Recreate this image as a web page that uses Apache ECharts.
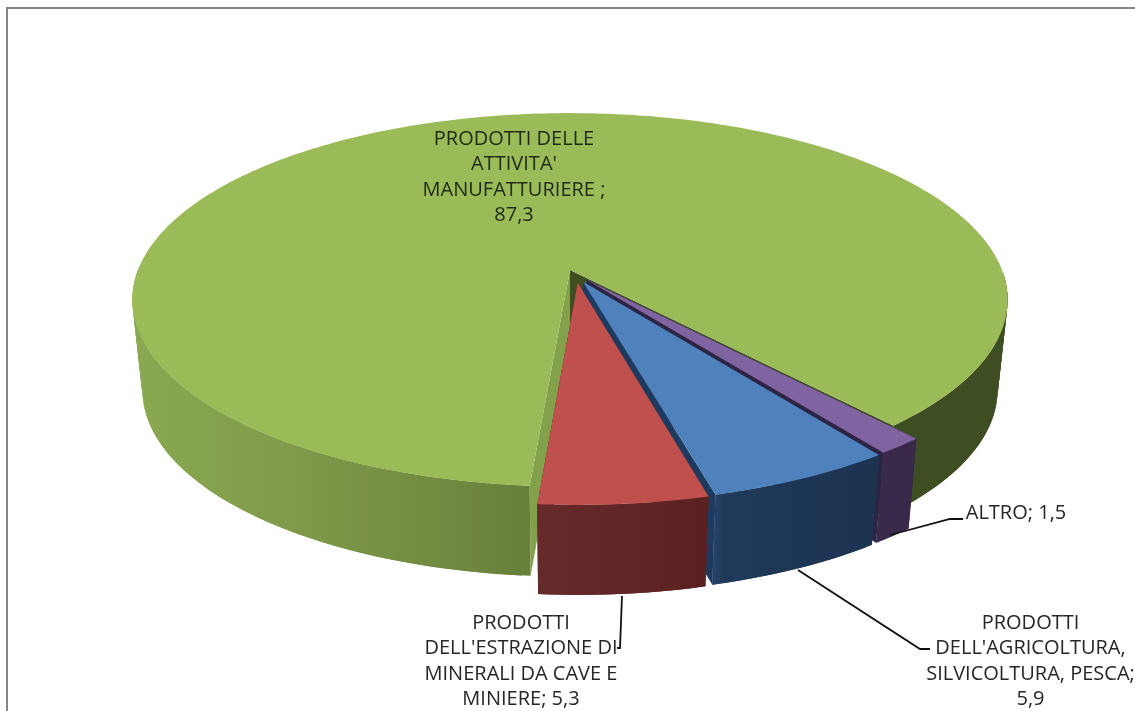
<!DOCTYPE html>
<html>
<head>
<meta charset="utf-8">
<style>html,body{margin:0;padding:0;background:#fff}#c{width:1135px;height:711px}</style>
<script src="https://cdn.jsdelivr.net/npm/echarts@6/dist/echarts.min.js"></script>
</head>
<body>
<div id="c"></div>
<script>
// Data, in clockwise drawing order
const categories = ["PRODOTTI DELLE ATTIVITA' MANUFATTURIERE", "ALTRO", "PRODOTTI DELL'AGRICOLTURA, SILVICOLTURA, PESCA", "PRODOTTI DELL'ESTRAZIONE DI MINERALI DA CAVE E MINIERE"];
const values = [87.3, 1.5, 5.9, 5.3];
const labelTexts = [
  "PRODOTTI DELLE\nATTIVITA'\nMANUFATTURIERE ;\n87,3",
  "ALTRO; 1,5",
  "PRODOTTI\nDELL'AGRICOLTURA,\nSILVICOLTURA, PESCA;\n5,9",
  "PRODOTTI\nDELL'ESTRAZIONE DI\nMINERALI DA CAVE E\nMINIERE; 5,3"
];

// Projection of the tilted disc
const view = {cx: 570, cy: 270, rx: 432, ry: 182, k: 0.16, depth: 90, bottomScale: 0.977, startAngle: 184.5};
const explode = [0, 0.07, 0.07, 0.07];
const shiftX = [0, -2, 0, 5];

// Styles
const topColors = ['#9bbb59', '#8064a2', '#4f81bd', '#c0504d'];
const wallStops = [
  [[0, '#8aa950'], [0.2, '#7f994a'], [0.45, '#68803a'], [0.6, '#5c7030'], [0.85, '#3f4d22'], [1, '#3f4d22']],
  [[0, '#3a2a4c'], [1, '#38294a']],
  [[0, '#26466f'], [0.1, '#20395a'], [1, '#1c3350']],
  [[0, '#672a2a'], [1, '#5a2120']]
];
const wallRanges = [[131, 1008], [872, 915], [708, 880], [538, 708]];
const cutColors = [['#83a04a', '#3f4d22'], ['#2c2443', '#2c2443'], ['#1f3a5f', '#1f3a5f'], ['#632627', '#632627']];
const labelPos = [[514, 177.5], [1016, 513], [1030.5, 661.5], [521, 661.5]];
const leaders = [null, [[890, 535], [950, 519], [963, 519]], [[798, 570], [920, 649], [930, 649]], [[622, 596], [620, 648], [617, 648]]];

const total = values.reduce((a, b) => a + b, 0);

function project(theta, off, ring, radius) {
  const t = theta * Math.PI / 180;
  const u = radius * Math.sin(t) + off[0];
  const v = -radius * Math.cos(t) + off[1];
  const w = 1 - view.k * v;
  const X = view.rx * u / w + off[2];
  const Y = view.ry * v / w;
  return ring === 0
    ? [view.cx + X, view.cy + Y]
    : [view.cx + X * view.bottomScale, view.cy + Y + view.depth];
}

function renderItem(params, api) {
  const i = params.dataIndex;
  let before = 0;
  for (let j = 0; j < i; j++) before += values[j];
  const a0 = view.startAngle + before / total * 360;
  const a1 = a0 + api.value(0) / total * 360;
  const mid = (a0 + a1) / 2 * Math.PI / 180;
  const off = [explode[i] * Math.sin(mid), -explode[i] * Math.cos(mid), shiftX[i]];

  const arc = (ring) => {
    const pts = [];
    const n = Math.max(2, Math.ceil(a1 - a0));
    for (let s = 0; s <= n; s++) pts.push(project(a0 + (a1 - a0) * s / n, off, ring, 1));
    return pts;
  };
  const topArc = arc(0), botArc = arc(1);
  const apexT = project(0, off, 0, 0), apexB = project(0, off, 1, 0);
  const children = [];
  const poly = (pts, fill) => children.push({type: 'polygon', shape: {points: pts}, style: {fill: fill, stroke: null}, silent: true});

  poly([apexT, topArc[0], botArc[0], apexB], cutColors[i][0]);
  poly([apexT, topArc[topArc.length - 1], botArc[botArc.length - 1], apexB], cutColors[i][1]);
  const wallFill = {
    type: 'linear', x: wallRanges[i][0], y: 0, x2: wallRanges[i][1], y2: 0, global: true,
    colorStops: wallStops[i].map(s => ({offset: s[0], color: s[1]}))
  };
  // Overlapping wall pieces, front half only, so no seams and nothing behind the top face
  for (let s = 0; s + 1 < topArc.length; s++) {
    if (topArc[s][1] < view.cy) continue;
    const e = Math.min(s + 2, topArc.length - 1);
    poly([topArc[s], topArc[e], botArc[e], botArc[s]], wallFill);
  }
  poly([apexT].concat(topArc), topColors[i]);

  if (leaders[i]) {
    children.push({type: 'polyline', shape: {points: leaders[i]}, style: {fill: null, stroke: '#111', lineWidth: 1.8}, silent: true});
  }
  children.push({
    type: 'text', x: labelPos[i][0], y: labelPos[i][1], silent: true,
    style: {
      text: labelTexts[i], fill: i === 0 ? '#1f2a12' : '#262626', align: 'center', verticalAlign: 'middle',
      font: '20px "Open Sans", sans-serif', lineHeight: 25.5
    }
  });
  return {type: 'group', children: children};
}

const chart = echarts.init(document.getElementById('c'), null, {renderer: 'canvas'});
chart.setOption({
  animation: false,
  backgroundColor: '#ffffff',
  graphic: [
    {type: 'polyline', shape: {points: [[7, 711], [7, 8], [1135, 8]]}, style: {fill: null, stroke: '#868686', lineWidth: 2}, silent: true, z: 10}
  ],
  series: [{
    type: 'custom',
    coordinateSystem: 'none',
    renderItem: renderItem,
    data: values.map((v, i) => ({name: categories[i], value: [v]}))
  }]
});
</script>
</body>
</html>
